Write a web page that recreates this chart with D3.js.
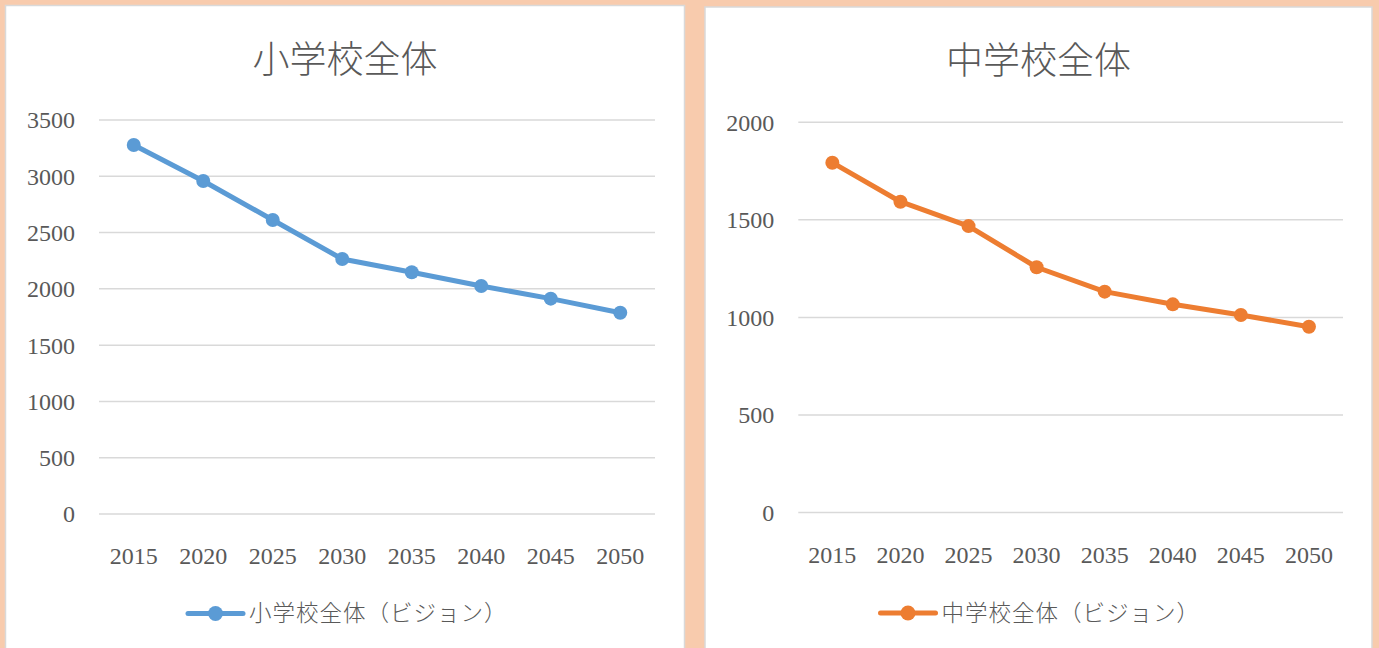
<!DOCTYPE html>
<html lang="ja">
  <head>
    <meta charset="UTF-8" />
    <title>小学校・中学校全体</title>
    <script src="https://d3js.org/d3.v7.min.js"></script>
    <style>
      body {
        margin: 0;
        background: #f8cbad;
      }
      svg text {
        font-family: "Liberation Serif", "Noto Sans CJK JP", serif;
        fill: #595959;
      }
    </style>
  </head>
  <body>
    <svg width="1379" height="648"></svg>
    <script>
      // data
      const years = ["2015", "2020", "2025", "2030", "2035", "2040", "2045", "2050"];
      const elementary = [3278, 2958, 2612, 2265, 2147, 2025, 1913, 1788];
      const juniorHigh = [1793, 1593, 1468, 1257, 1132, 1067, 1012, 952];
      const elementaryTicks = [0, 500, 1000, 1500, 2000, 2500, 3000, 3500];
      const juniorHighTicks = [0, 500, 1000, 1500, 2000];

      const svg = d3.select("svg");

      // one chart panel
      function drawPanel(opt) {
        const g = svg.append("g").attr("transform", `translate(${opt.x},${opt.y})`);

        g.append("rect")
          .attr("width", opt.w)
          .attr("height", opt.h)
          .attr("fill", "white")
          .attr("stroke", "#d9d9d9")
          .attr("stroke-width", 1.5);

        g.append("text")
          .attr("x", opt.w / 2)
          .attr("y", 67)
          .attr("text-anchor", "middle")
          .style("font-family", "'Noto Sans CJK JP'")
          .style("font-size", "37px")
          .style("font-weight", 300)
          .text(opt.title);

        const x = d3.scalePoint().domain(years).range([opt.left, opt.right]).padding(0.5);
        const y = d3.scaleLinear().domain([0, opt.max]).range([opt.bottom, opt.top]);

        // gridlines
        g.append("g")
          .selectAll("line")
          .data(opt.ticks)
          .join("line")
          .attr("x1", opt.left)
          .attr("x2", opt.right)
          .attr("y1", (d) => y(d))
          .attr("y2", (d) => y(d))
          .attr("stroke", "#d9d9d9")
          .attr("stroke-width", 1.5);

        // y labels
        g.append("g")
          .selectAll("text")
          .data(opt.ticks)
          .join("text")
          .attr("x", opt.left - 24)
          .attr("y", (d) => y(d))
          .attr("dy", "0.35em")
          .attr("text-anchor", "end")
          .style("font-size", "24px")
          .text((d) => d);

        // x labels
        g.append("g")
          .selectAll("text")
          .data(years)
          .join("text")
          .attr("x", (d) => x(d))
          .attr("y", opt.bottom + 42)
          .attr("dy", "0.35em")
          .attr("text-anchor", "middle")
          .style("font-size", "24px")
          .text((d) => d);

        const line = d3
          .line()
          .x((d, i) => x(years[i]))
          .y((d) => y(d));

        g.append("path")
          .datum(opt.values)
          .attr("d", line)
          .attr("fill", "none")
          .attr("stroke", opt.color)
          .attr("stroke-width", 5)
          .attr("stroke-linejoin", "round");

        g.append("g")
          .selectAll("circle")
          .data(opt.values)
          .join("circle")
          .attr("cx", (d, i) => x(years[i]))
          .attr("cy", (d) => y(d))
          .attr("r", 7)
          .attr("fill", opt.color);

        // legend
        const lg = g.append("g").attr("transform", `translate(${opt.legendX},${opt.legendY})`);
        lg.append("line")
          .attr("x1", 0)
          .attr("x2", 55)
          .attr("stroke", opt.color)
          .attr("stroke-width", 5)
          .attr("stroke-linecap", "round");
        lg.append("circle").attr("cx", 27.5).attr("r", 7.5).attr("fill", opt.color);
        lg.append("text")
          .attr("x", 61)
          .attr("dy", "0.35em")
          .style("font-family", "'Noto Sans CJK JP'")
          .style("font-size", "22.5px")
          .style("font-weight", 300)
          .style("letter-spacing", "1px")
          .text(opt.legend);
      }

      drawPanel({
        x: 5.5, y: 5.5, w: 679, h: 660,
        left: 93.5, right: 649.5, top: 114.5, bottom: 508.5,
        max: 3500, ticks: elementaryTicks, values: elementary,
        color: "#5b9bd5", title: "小学校全体", legend: "小学校全体（ビジョン）",
        legendX: 182.5, legendY: 608
      });

      drawPanel({
        x: 705, y: 7, w: 667, h: 660,
        left: 93.3, right: 638, top: 115.3, bottom: 505.5,
        max: 2000, ticks: juniorHighTicks, values: juniorHigh,
        color: "#ed7d31", title: "中学校全体", legend: "中学校全体（ビジョン）",
        legendX: 175.5, legendY: 606
      });
    </script>
  </body>
</html>
